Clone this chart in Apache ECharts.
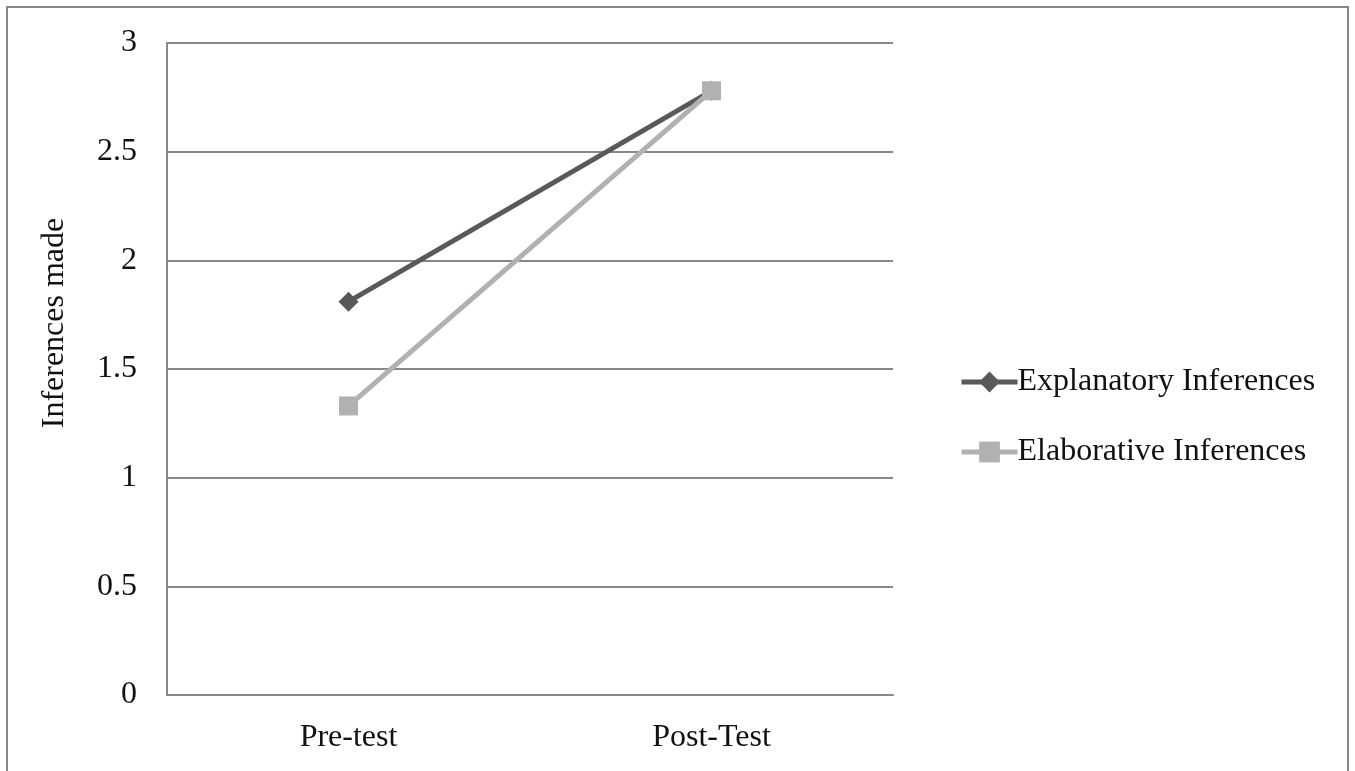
<!DOCTYPE html>
<html><head><meta charset="utf-8">
<script src="https://cdn.jsdelivr.net/npm/echarts@6/dist/echarts.min.js"></script>
<style>html,body{margin:0;padding:0;background:#fff}#c{width:1355px;height:771px}</style>
</head><body><div id="c"></div>
<script>
const categories = ["Pre-test", "Post-Test"];
const explanatory = [1.81, 2.78];
const elaborative = [1.33, 2.78];
const yTicks = [0, 0.5, 1, 1.5, 2, 2.5, 3];
const seriesNames = ["Explanatory Inferences", "Elaborative Inferences"];

const font = "'Liberation Serif', 'Times New Roman', serif";
const chart = echarts.init(document.getElementById('c'));
chart.setOption({
  animation: false,
  backgroundColor: '#fff',
  graphic: [
    {type: 'rect', shape: {x: 7, y: 7, width: 1341, height: 800}, style: {fill: 'none', stroke: '#888', lineWidth: 2}},
    {type: 'text', x: 55, y: 323, rotation: Math.PI/2, style: {text: 'Inferences made', font: '32px ' + font, fill: '#111', align: 'center', verticalAlign: 'middle'}}
  ],
  grid: {left: 167, top: 43, right: 462, bottom: 76},
  legend: {
    orient: 'vertical', left: 954, top: 361, itemGap: 38,
    itemWidth: 56, itemHeight: 26,
    lineStyle: {width: 5},
    textStyle: {fontFamily: font, fontSize: 32, color: '#111', padding: [0,0,0,-5]},
    data: seriesNames
  },
  xAxis: {
    type: 'category', data: categories, boundaryGap: true,
    axisLine: {lineStyle: {color: '#888', width: 2}},
    axisTick: {show: false},
    axisLabel: {fontFamily: font, fontSize: 32, color: '#111', margin: 27}
  },
  yAxis: {
    type: 'value', min: 0, max: 3, interval: 0.5,
    axisLine: {show: true, lineStyle: {color: '#888', width: 2}},
    axisTick: {show: false},
    splitLine: {lineStyle: {color: '#888', width: 2}},
    axisLabel: {fontFamily: font, fontSize: 32, color: '#111', margin: 30,
      formatter: v => yTicks.includes(v) ? String(v) : ''}
  },
  series: [
    {name: seriesNames[0], type: 'line', data: explanatory, symbol: 'diamond', symbolSize: 20,
     itemStyle: {color: '#595959'}, lineStyle: {color: '#595959', width: 5}},
    {name: seriesNames[1], type: 'line', data: elaborative, symbol: 'rect', symbolSize: 19,
     itemStyle: {color: '#b1b1b1'}, lineStyle: {color: '#b1b1b1', width: 5}}
  ]
});
</script></body></html>
